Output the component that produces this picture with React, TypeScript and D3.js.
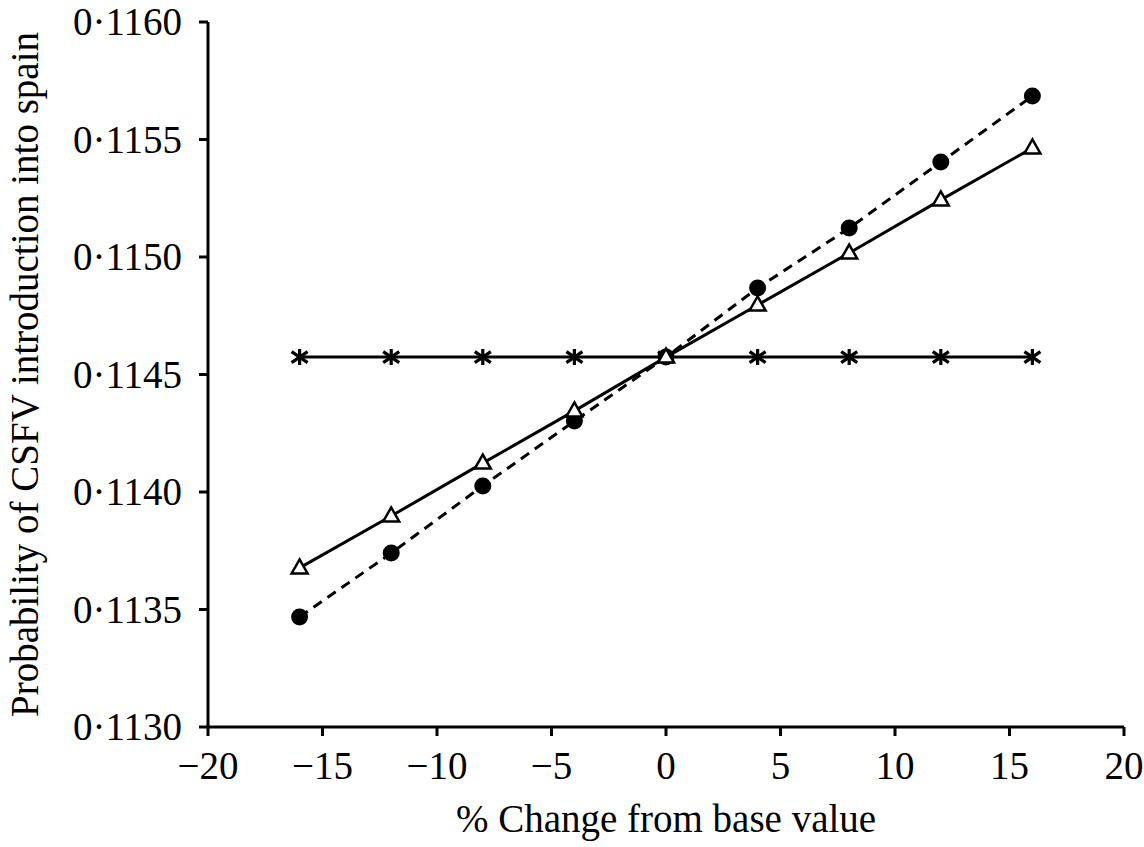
import React from "react";
import * as d3 from "d3";

const xValues = [-16, -12, -8, -4, 0, 4, 8, 12, 16];
const seriesCircle = [0.113468, 0.11374, 0.114026, 0.114302, 0.114574, 0.114868, 0.115123, 0.115404, 0.115685];
const seriesTriangle = [0.113677, 0.113898, 0.114123, 0.114345, 0.114574, 0.114796, 0.115017, 0.115243, 0.115464];
const seriesStar = [0.114574, 0.114574, 0.114574, 0.114574, 0.114574, 0.114574, 0.114574, 0.114574, 0.114574];
const xTicks = [-20, -15, -10, -5, 0, 5, 10, 15, 20];
const yTicks = [0.113, 0.1135, 0.114, 0.1145, 0.115, 0.1155, 0.116];
const xTitle = "% Change from base value";
const yTitle = "Probability of CSFV introduction into spain";

const W = 1144;
const H = 847;
const FONT = "'Liberation Serif', 'DejaVu Serif', serif";

export default function App() {
  const x = d3.scaleLinear().domain([-20, 20]).range([208, 1124]);
  const y = d3.scaleLinear().domain([0.113, 0.116]).range([727, 22]);
  const line = d3
    .line<[number, number]>()
    .x((d) => x(d[0]))
    .y((d) => y(d[1]));
  const pts = (vals: number[]) => xValues.map((v, i) => [v, vals[i]] as [number, number]);
  const fmtX = (v: number) => (v < 0 ? "\u2212" + Math.abs(v) : String(v));
  const fmtY = (v: number) => v.toFixed(4).replace(".", "\u00B7");
  const tri = (cx: number, cy: number) => {
    const s = 8;
    return `M${cx},${cy - 8.5}L${cx + s},${cy + 5.5}L${cx - s},${cy + 5.5}Z`;
  };
  const star = (cx: number, cy: number) => {
    const v = 8;
    const dx = 8;
    const dy = 5.5;
    return `M${cx},${cy - v}L${cx},${cy + v}M${cx - dx},${cy - dy}L${cx + dx},${cy + dy}M${cx - dx},${cy + dy}L${cx + dx},${cy - dy}`;
  };
  return (
    <svg width={W} height={H} style={{ position: "absolute", left: 0, top: 0, background: "#fff" }}>
      <rect width={W} height={H} fill="#fff" />
      <g stroke="#000" strokeWidth={3} fill="none">
        <line x1={x(-20)} x2={x(20)} y1={y(0.113)} y2={y(0.113)} />
        <line x1={x(-20)} x2={x(-20)} y1={y(0.113)} y2={y(0.116)} />
        {xTicks.map((t) => (
          <line key={"xt" + t} x1={x(t)} x2={x(t)} y1={y(0.113)} y2={y(0.113) + 9} />
        ))}
        {yTicks.map((t) => (
          <line key={"yt" + t} x1={x(-20) - 9} x2={x(-20)} y1={y(t)} y2={y(t)} />
        ))}
      </g>
      <g fontFamily={FONT} fontSize={39} fill="#000">
        {xTicks.map((t) => (
          <text key={"xl" + t} x={x(t)} y={779} textAnchor="middle">
            {fmtX(t)}
          </text>
        ))}
        {yTicks.map((t) => (
          <text key={"yl" + t} x={182} y={y(t) + 13} textAnchor="end">
            {fmtY(t)}
          </text>
        ))}
        <text x={(x(-20) + x(20)) / 2} y={832} textAnchor="middle">
          {xTitle}
        </text>
        <text transform={`translate(38,${(y(0.113) + y(0.116)) / 2}) rotate(-90)`} textAnchor="middle">
          {yTitle}
        </text>
      </g>
      <path d={line(pts(seriesStar)) || ""} fill="none" stroke="#000" strokeWidth={3} />
      <path d={line(pts(seriesTriangle)) || ""} fill="none" stroke="#000" strokeWidth={3} />
      <path d={line(pts(seriesCircle)) || ""} fill="none" stroke="#000" strokeWidth={3} strokeDasharray="10,7" />
      {pts(seriesStar).map((d, i) => (
        <path key={"s" + i} d={star(x(d[0]), y(d[1]))} stroke="#000" strokeWidth={3.2} fill="none" />
      ))}
      {pts(seriesCircle).map((d, i) => (
        <circle key={"c" + i} cx={x(d[0])} cy={y(d[1])} r={8.5} fill="#000" />
      ))}
      {pts(seriesTriangle).map((d, i) => (
        <path key={"t" + i} d={tri(x(d[0]), y(d[1]))} stroke="#000" strokeWidth={2.5} fill="#fff" />
      ))}
    </svg>
  );
}
